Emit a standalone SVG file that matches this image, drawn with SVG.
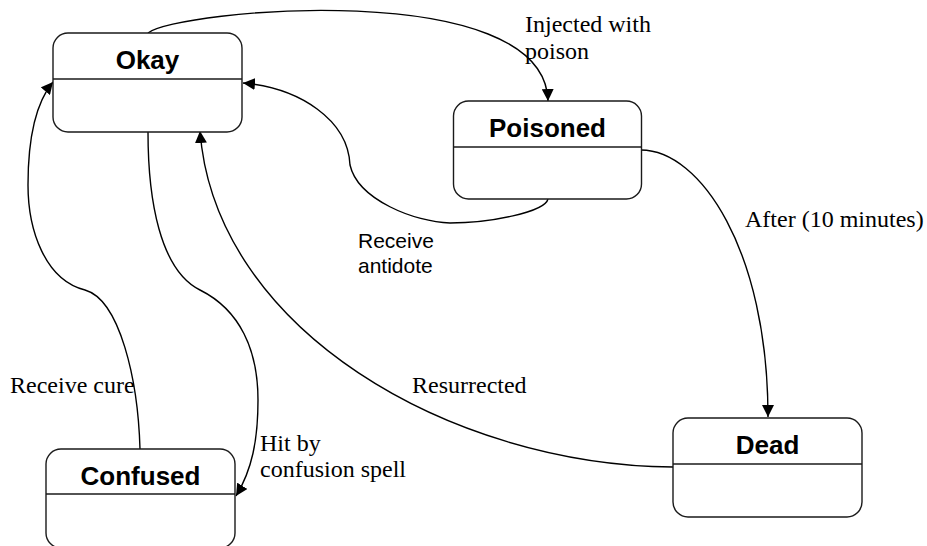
<svg xmlns="http://www.w3.org/2000/svg" width="927" height="546" viewBox="0 0 927 546">
<style>
.box{fill:#fff;stroke:#1a1a1a;stroke-width:1.4}
.div{stroke:#1a1a1a;stroke-width:1.4}
.title{font-family:"Liberation Sans",Arial,sans-serif;font-weight:bold;font-size:26px;text-anchor:middle;fill:#000}
.lbl{font-family:"Liberation Serif","Times New Roman",serif;font-size:24px;fill:#000}
.lbls{font-family:"Liberation Sans",Arial,sans-serif;font-size:21px;fill:#000}
.edge{fill:none;stroke:#000;stroke-width:1.4;marker-end:url(#arr)}
.plain{fill:none;stroke:#000;stroke-width:1.4}
</style>
<defs>
<marker id="arr" viewBox="0 0 12 12" refX="12" refY="6" markerWidth="12" markerHeight="12" markerUnits="userSpaceOnUse" orient="auto">
<path d="M0,0 L12,6 L0,12 z" fill="#000"/>
</marker>
</defs>
<g id="connectors">
<path class="edge" d="M148,33 C175,10 545,-25 548,101"/>
<path class="edge" d="M548,199 C545,212 490,223 450,223 C415,222 358,200 350,165 C348,120 300,88 243,83"/>
<path class="edge" d="M641,150 C700,150 768,250 768,417"/>
<path class="edge" d="M673,467 C450,465 215,330 200,131"/>
<path class="edge" d="M148,132 C148,200 160,270 200,290 C240,310 258,350 258,400 C258,440 252,470 236,496"/>
<path class="edge" d="M140,449 C138,380 120,300 85,290 C45,280 28,230 28,185 C28,130 38,100 53,82"/>
</g>
<g id="labels">
<text class="lbl" x="525" y="32">Injected with</text>
<text class="lbl" x="525" y="59">poison</text>
<text class="lbls" x="358" y="248">Receive</text>
<text class="lbls" x="358" y="273">antidote</text>
<text class="lbl" x="745" y="227">After (10 minutes)</text>
<text class="lbl" x="412" y="393">Resurrected</text>
<text class="lbl" x="10" y="393">Receive cure</text>
<text class="lbl" x="260" y="451">Hit by</text>
<text class="lbl" x="260" y="477">confusion spell</text>
</g>
<g id="okay">
<rect class="box" x="53" y="33" width="189" height="99" rx="15" ry="15"/>
<line class="div" x1="53" y1="79" x2="242" y2="79"/>
<text class="title" x="147.5" y="69">Okay</text>
</g>
<g id="poisoned">
<rect class="box" x="453.5" y="101" width="188" height="98" rx="15" ry="15"/>
<line class="div" x1="453.5" y1="147" x2="641.5" y2="147"/>
<text class="title" x="547.5" y="137">Poisoned</text>
</g>
<g id="dead">
<rect class="box" x="673" y="418" width="189" height="99" rx="15" ry="15"/>
<line class="div" x1="673" y1="464" x2="862" y2="464"/>
<text class="title" x="767.5" y="454">Dead</text>
</g>
<g id="confused">
<rect class="box" x="46" y="449" width="189" height="99" rx="15" ry="15"/>
<line class="div" x1="46" y1="494" x2="235" y2="494"/>
<text class="title" x="140.5" y="485">Confused</text>
</g>
</svg>
